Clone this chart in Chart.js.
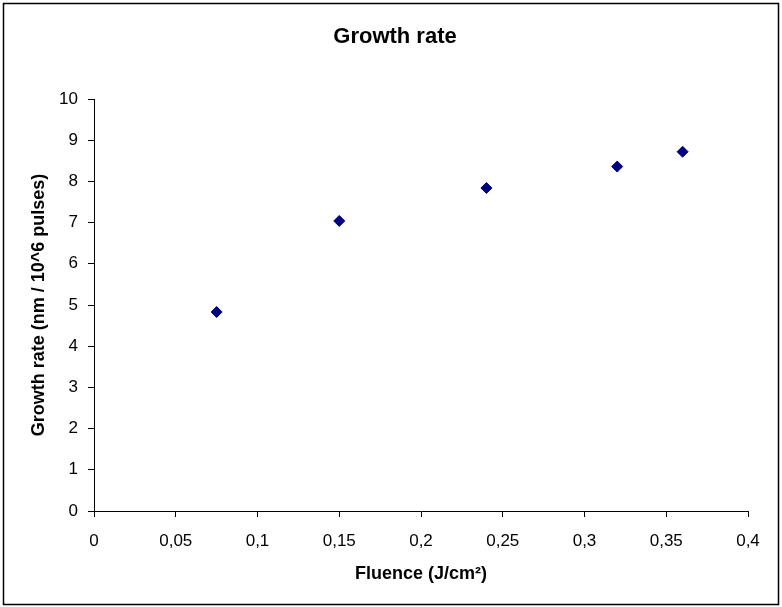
<!DOCTYPE html>
<html lang="en">
<head>
  <meta charset="UTF-8">
  <title>Growth rate</title>
  <script src="https://cdn.jsdelivr.net/npm/chart.js"></script>
  <style>
    body {
      margin: 0;
      background-color: #ffffff;
    }

    #chartBox {
      width: 782px;
      height: 607px;
    }
  </style>
</head>
<body>

<div id="chartBox">
  <canvas id="growthChart" width="782" height="607"></canvas>
</div>

<script>
  // fluence (J/cm²) and growth rate (nm / 10^6 pulses)
  const fluence = [0.075, 0.15, 0.24, 0.32, 0.36];
  const growthRate = [4.83, 7.04, 7.84, 8.36, 8.72];

  const xTicks = [0, 0.05, 0.1, 0.15, 0.2, 0.25, 0.3, 0.35, 0.4];
  const yTicks = [0, 1, 2, 3, 4, 5, 6, 7, 8, 9, 10];

  const FONT = 'Arial, "Liberation Sans", sans-serif';

  // outer frame + chart title, like the original spreadsheet chart
  const framePlugin = {
    id: 'frame',
    afterDraw(chart) {
      const ctx = chart.ctx;
      ctx.save();
      ctx.strokeStyle = '#000';
      ctx.lineWidth = 1.5;
      ctx.strokeRect(3.5, 3.5, 775, 601);
      ctx.fillStyle = '#000';
      ctx.font = 'bold 22px ' + FONT;
      ctx.textAlign = 'center';
      ctx.textBaseline = 'middle';
      ctx.fillText('Growth rate', 395, 37);
      ctx.restore();
    }
  };

  const points = fluence.map((x, i) => ({ x: x, y: growthRate[i] }));

  new Chart(document.getElementById('growthChart'), {
    type: 'scatter',
    data: {
      datasets: [{
        label: 'Growth rate',
        data: points,
        pointStyle: 'rectRot',
        pointRadius: 5.5,
        backgroundColor: '#000080',
        borderColor: '#000080',
        borderWidth: 1
      }]
    },
    options: {
      responsive: false,
      animation: false,
      layout: {
        padding: { top: 99, right: 34, bottom: 0, left: 0 }
      },
      plugins: {
        legend: { display: false },
        tooltip: { enabled: false }
      },
      scales: {
        x: {
          type: 'linear',
          min: 0,
          max: 0.4,
          afterBuildTicks: s => { s.ticks = xTicks.map(v => ({ value: v })); },
          afterFit: s => { s.height = 96; },
          border: { display: true, color: '#000', width: 1 },
          grid: { drawOnChartArea: false, drawTicks: true, tickLength: 6, color: '#000' },
          ticks: {
            color: '#000',
            padding: 14,
            font: { family: FONT, size: 17 },
            callback: v => String(v).replace('.', ',')
          },
          title: {
            display: true,
            text: 'Fluence (J/cm²)',
            color: '#000',
            font: { family: FONT, size: 18, weight: 'bold' },
            padding: { top: 0, bottom: 22 }
          }
        },
        y: {
          type: 'linear',
          min: 0,
          max: 10,
          afterBuildTicks: s => { s.ticks = yTicks.map(v => ({ value: v })); },
          afterFit: s => { s.width = 94; },
          border: { display: true, color: '#000', width: 1 },
          grid: { drawOnChartArea: false, drawTicks: true, tickLength: 6, color: '#000' },
          ticks: {
            color: '#000',
            padding: 10,
            font: { family: FONT, size: 17 }
          },
          title: {
            display: true,
            text: 'Growth rate (nm / 10^6 pulses)',
            color: '#000',
            font: { family: FONT, size: 18, weight: 'bold' },
            padding: { top: 28, bottom: 0 }
          }
        }
      }
    },
    plugins: [framePlugin]
  });
</script>

</body>
</html>
